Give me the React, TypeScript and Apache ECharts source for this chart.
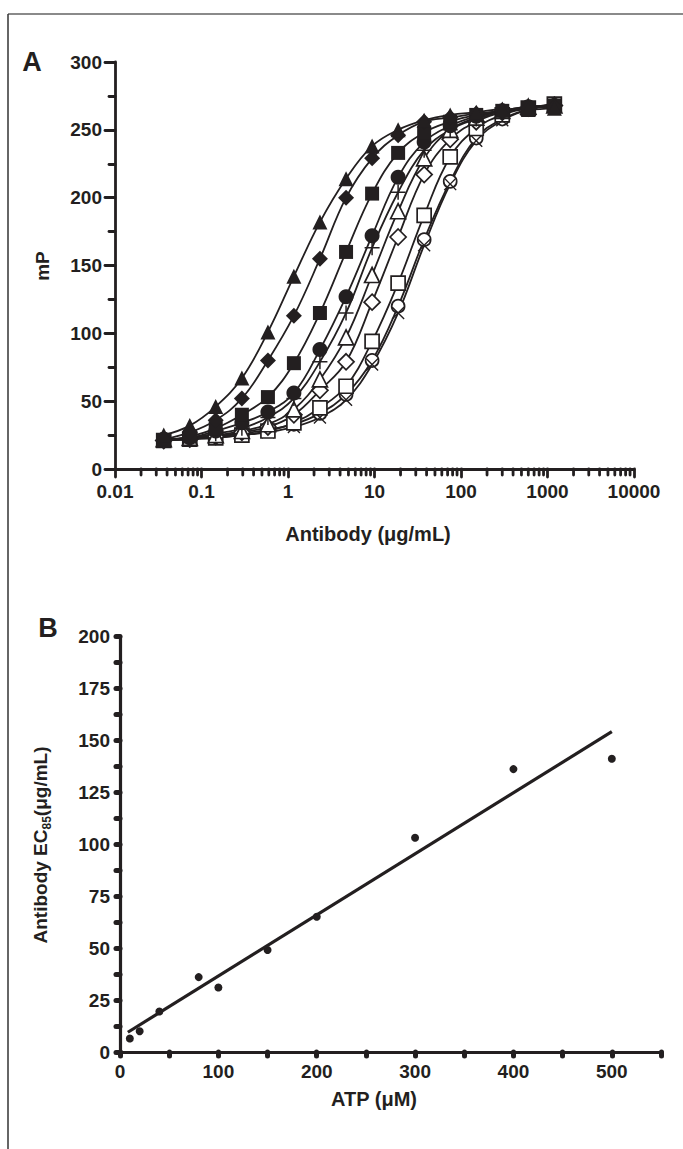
import React, { useEffect, useRef } from 'react';
import * as echarts from 'echarts';

const INK = '#231f20';
const FONT = '"Liberation Sans", Arial, Helvetica, sans-serif';

// Panel A: antibody concentration (µg/mL), 2-fold serial dilution
const antibodyConc = [0.0366, 0.0732, 0.146, 0.293, 0.586, 1.17, 2.34, 4.69, 9.38, 18.75, 37.5, 75, 150, 300, 600, 1200];

// mP readings per series (one per ATP level)
const mpFilledTriangle = [25, 32, 46, 67, 101, 142, 182, 214, 238, 250, 257, 261, 263, 265, 265, 266];
const mpFilledDiamond = [22, 27, 36, 52, 80, 113, 155, 200, 229, 246, 256, 259, 262, 264, 266, 267];
const mpFilledSquare = [21, 24, 30, 40, 53, 78, 115, 160, 203, 233, 248, 256, 261, 264, 266, 268];
const mpFilledCircle = [22, 23, 28, 34, 42, 56, 88, 127, 172, 215, 241, 253, 260, 264, 267, 268];
const mpPlus = [22, 23, 26, 30, 38, 52, 79, 115, 163, 204, 235, 250, 258, 263, 266, 268];
const mpOpenTriangle = [22, 23, 25, 28, 33, 44, 66, 97, 143, 190, 229, 250, 259, 264, 267, 268];
const mpOpenDiamond = [21, 22, 24, 27, 31, 40, 58, 79, 123, 171, 217, 243, 256, 263, 266, 268];
const mpOpenSquare = [21, 22, 23, 25, 28, 34, 45, 61, 94, 137, 187, 230, 251, 261, 266, 269];
const mpOpenCircle = [22, 22, 24, 26, 29, 33, 41, 55, 80, 120, 169, 212, 244, 258, 265, 269];
const mpCross = [21, 22, 23, 25, 27, 31, 38, 51, 77, 115, 165, 210, 242, 257, 265, 269];

// Panel A axis ticks
const logDecades = [0.01, 0.1, 1, 10, 100, 1000];
const logMinorMultipliers = [2, 3, 4, 5, 6, 7, 8, 9];

// Panel B: ATP (µM) vs antibody EC85 (µg/mL)
const atpConc = [10, 20, 40, 80, 100, 150, 200, 300, 400, 500];
const ec85 = [6.5, 10, 19.5, 36, 31, 49, 65, 103, 136, 141];
const fitAtp = [8, 500];
const fitEc85 = [9.5, 154];

const PLUS_PATH = 'path://M9,0h2v9h9v2h-9v9h-2v-9h-9v-2h9z';
const CROSS_PATH = 'path://M1.5,0L10,8.5L18.5,0L20,1.5L11.5,10L20,18.5L18.5,20L10,11.5L1.5,20L0,18.5L8.5,10L0,1.5Z';

function curveSeries(values: number[], symbol: string, size: number, filled: boolean) {
  return {
    type: 'line',
    xAxisIndex: 0,
    yAxisIndex: 0,
    data: antibodyConc.map((x, i) => [x, values[i]]),
    smooth: 0.4,
    symbol,
    symbolSize: size,
    showAllSymbol: true,
    lineStyle: { color: INK, width: 1.8 },
    itemStyle: filled
      ? { color: INK, borderColor: INK, borderWidth: 0, opacity: 1 }
      : { color: '#ffffff', borderColor: INK, borderWidth: 1.7, opacity: 1 },
    emphasis: { disabled: true },
    z: 3,
  };
}

export default function App() {
  const ref = useRef<HTMLDivElement>(null);

  useEffect(() => {
    if (!ref.current) return;
    const chart = echarts.init(ref.current, undefined, { renderer: 'svg' });

    const labelStyle = { color: INK, fontWeight: 'bold', fontSize: 19, fontFamily: FONT };
    const logMinorTicks: number[] = [];
    logDecades.forEach((d) => logMinorMultipliers.forEach((m) => logMinorTicks.push(d * m)));

    const option: any = {
      animation: false,
      backgroundColor: '#ffffff',
      grid: [
        { left: 115, top: 62, width: 519, height: 407 },
        { left: 120, top: 636, width: 541, height: 416 },
      ],
      xAxis: [
        {
          gridIndex: 0,
          type: 'log',
          logBase: 10,
          min: 0.01,
          max: 10000,
          interval: 1,
          axisLine: { lineStyle: { color: INK, width: 2.8 } },
          axisTick: { show: true, length: 8, lineStyle: { color: INK, width: 2.8, cap: 'round' } },
          axisLabel: {
            ...labelStyle,
            margin: 13,
            formatter: (v: number) => String(Number(Number(v).toPrecision(4))),
          },
          splitLine: { show: false },
        },
        {
          gridIndex: 1,
          type: 'value',
          min: 0,
          max: 550,
          interval: 50,
          axisLine: { lineStyle: { color: INK, width: 3.2 } },
          axisTick: { show: true, length: 4, lineStyle: { color: INK, width: 5, cap: 'round' } },
          axisLabel: {
            ...labelStyle,
            margin: 10,
            formatter: (v: number) => (v % 100 === 0 ? String(v) : ''),
          },
          splitLine: { show: false },
        },
      ],
      yAxis: [
        {
          gridIndex: 0,
          type: 'value',
          min: 0,
          max: 300,
          interval: 50,
          axisLine: { show: true, lineStyle: { color: INK, width: 2.8 } },
          axisTick: { show: true, length: 10, lineStyle: { color: INK, width: 2.8, cap: 'round' } },
          minorTick: { show: true, splitNumber: 2, length: 6, lineStyle: { color: INK, width: 2.8, cap: 'round' } },
          axisLabel: { ...labelStyle, margin: 13 },
          splitLine: { show: false },
        },
        {
          gridIndex: 1,
          type: 'value',
          min: 0,
          max: 200,
          interval: 12.5,
          axisLine: { show: true, lineStyle: { color: INK, width: 3.2 } },
          axisTick: { show: true, length: 4, lineStyle: { color: INK, width: 5, cap: 'round' } },
          axisLabel: {
            ...labelStyle,
            margin: 10,
            formatter: (v: number) => (v % 25 === 0 ? String(v) : ''),
          },
          splitLine: { show: false },
        },
      ],
      series: [
        {
          type: 'custom',
          xAxisIndex: 0,
          yAxisIndex: 0,
          silent: true,
          clip: false,
          data: logMinorTicks.map((v) => [v, 0]),
          renderItem: (_p: any, api: any) => {
            const pt = api.coord([api.value(0), 0]);
            return {
              type: 'line',
              shape: { x1: pt[0], y1: pt[1], x2: pt[0], y2: pt[1] + 6 },
              style: { stroke: INK, lineWidth: 2.8, lineCap: 'round' },
            };
          },
          z: 2,
        },
        curveSeries(mpOpenCircle, 'circle', 13, false),
        curveSeries(mpCross, CROSS_PATH, 13, true),
        curveSeries(mpOpenSquare, 'rect', 14, false),
        curveSeries(mpOpenDiamond, 'diamond', 16, false),
        curveSeries(mpOpenTriangle, 'triangle', 15, false),
        curveSeries(mpPlus, PLUS_PATH, 15, true),
        curveSeries(mpFilledCircle, 'circle', 15, true),
        curveSeries(mpFilledSquare, 'rect', 14, true),
        curveSeries(mpFilledDiamond, 'diamond', 16, true),
        curveSeries(mpFilledTriangle, 'triangle', 15, true),
        {
          type: 'line',
          xAxisIndex: 1,
          yAxisIndex: 1,
          data: fitAtp.map((x, i) => [x, fitEc85[i]]),
          showSymbol: false,
          lineStyle: { color: INK, width: 3.2 },
          emphasis: { disabled: true },
        },
        {
          type: 'scatter',
          xAxisIndex: 1,
          yAxisIndex: 1,
          data: atpConc.map((x, i) => [x, ec85[i]]),
          symbol: 'circle',
          symbolSize: 8,
          itemStyle: { color: INK, opacity: 1 },
          emphasis: { disabled: true },
        },
      ],
      graphic: [
        { type: 'line', shape: { x1: 8, y1: 14, x2: 683, y2: 14 }, style: { stroke: '#8a8a8a', lineWidth: 2 } },
        { type: 'line', shape: { x1: 8, y1: 14, x2: 8, y2: 1149 }, style: { stroke: '#333333', lineWidth: 1.5 } },
        {
          type: 'text', x: 32, y: 62,
          style: { text: 'A', fill: INK, font: `bold 27px ${FONT}`, textAlign: 'center', textVerticalAlign: 'middle' },
        },
        {
          type: 'text', x: 42, y: 266, rotation: Math.PI / 2,
          style: { text: 'mP', fill: INK, font: `bold 19px ${FONT}`, textAlign: 'center', textVerticalAlign: 'middle' },
        },
        {
          type: 'text', x: 368, y: 534,
          style: { text: 'Antibody (μg/mL)', fill: INK, font: `bold 20px ${FONT}`, textAlign: 'center', textVerticalAlign: 'middle' },
        },
        {
          type: 'text', x: 48, y: 628,
          style: { text: 'B', fill: INK, font: `bold 27px ${FONT}`, textAlign: 'center', textVerticalAlign: 'middle' },
        },
        {
          type: 'text', x: 40, y: 845, rotation: Math.PI / 2,
          style: {
            text: '{a|Antibody EC}{s|85}{a|(μg/mL)}',
            textAlign: 'center',
            textVerticalAlign: 'middle',
            rich: {
              a: { fill: INK, fontSize: 19, fontWeight: 'bold', fontFamily: FONT, lineHeight: 26, verticalAlign: 'middle' },
              s: { fill: INK, fontSize: 12, fontWeight: 'bold', fontFamily: FONT, lineHeight: 12, verticalAlign: 'bottom' },
            },
          },
        },
        {
          type: 'text', x: 374, y: 1099,
          style: { text: 'ATP (μM)', fill: INK, font: `bold 20px ${FONT}`, textAlign: 'center', textVerticalAlign: 'middle' },
        },
      ],
    };

    chart.setOption(option);
    return () => chart.dispose();
  }, []);

  return (
    <div
      ref={ref}
      style={{ position: 'absolute', left: 0, top: 0, width: 683, height: 1149, background: '#fff' }}
    />
  );
}
